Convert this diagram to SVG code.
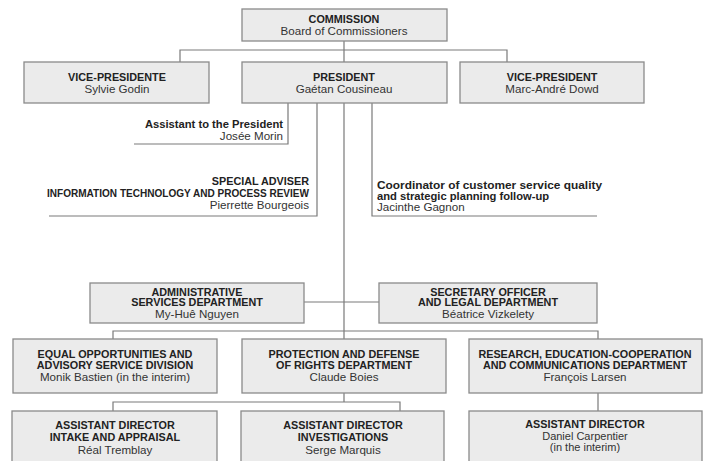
<svg xmlns="http://www.w3.org/2000/svg" width="703" height="461" viewBox="0 0 703 461">
<style>
.box{fill:#ebebeb;stroke:#8a8a8a;stroke-width:1.3}
.ln{fill:none;stroke:#7a7a7a;stroke-width:1.2}
text{font-family:"Liberation Sans",Arial,sans-serif;fill:#222}
.b{font-weight:bold;font-size:10.8px}
.bl{font-weight:bold;font-size:11.2px}
.n{font-size:11.6px;fill:#333}
.c{text-anchor:middle}
.r{text-anchor:end}
</style>
<rect width="703" height="461" fill="#fff"/>
<g id="connectors">
<path class="ln" d="M344 41V339M180 62V50H507V62"/>
<path class="ln" d="M288 103V144H134"/>
<path class="ln" d="M317 103V216H49"/>
<path class="ln" d="M372 103V216H597"/>
<path class="ln" d="M304 302H379"/>
<path class="ln" d="M113 339V331H598V339"/>
<path class="ln" d="M344 393V402M113 411V402H400V411"/>
<path class="ln" d="M598 393V411"/>
</g>
<g id="commission"><rect class="box" x="242" y="9" width="205" height="32"/>
<text class="b c" x="344" y="23">COMMISSION</text><text class="n c" x="344" y="35">Board of Commissioners</text></g>
<g id="vp-left"><rect class="box" x="24" y="62" width="185" height="41"/>
<text class="b c" x="117" y="81">VICE-PRESIDENTE</text><text class="n c" x="117" y="93">Sylvie Godin</text></g>
<g id="president"><rect class="box" x="242" y="62" width="205" height="41"/>
<text class="b c" x="344" y="81">PRESIDENT</text><text class="n c" x="344" y="93">Gaétan Cousineau</text></g>
<g id="vp-right"><rect class="box" x="460" y="62" width="184" height="41"/>
<text class="b c" x="552" y="81">VICE-PRESIDENT</text><text class="n c" x="552" y="93">Marc-André Dowd</text></g>
<g id="assistant"><text class="bl r" x="283" y="127.5">Assistant to the President</text><text class="n r" x="283" y="139.5">Josée Morin</text></g>
<g id="special-adviser"><text class="b r" x="309" y="185">SPECIAL ADVISER</text><text class="b" x="47" y="197" textLength="262" lengthAdjust="spacingAndGlyphs">INFORMATION TECHNOLOGY AND PROCESS REVIEW</text><text class="n r" x="309" y="209">Pierrette Bourgeois</text></g>
<g id="coordinator"><text class="bl" x="377" y="188.5" textLength="225" lengthAdjust="spacingAndGlyphs">Coordinator of customer service quality</text><text class="bl" x="377" y="199.5">and strategic planning follow-up</text><text class="n" x="377" y="211">Jacinthe Gagnon</text></g>
<g id="admin"><rect class="box" x="90" y="283" width="214" height="40"/>
<text class="b c" x="197" y="295.5">ADMINISTRATIVE</text><text class="b c" x="197" y="306">SERVICES DEPARTMENT</text><text class="n c" x="197" y="318">My-Huê Nguyen</text></g>
<g id="secretary"><rect class="box" x="379" y="283" width="218" height="40"/>
<text class="b c" x="488" y="295.5">SECRETARY OFFICER</text><text class="b c" x="488" y="306">AND LEGAL DEPARTMENT</text><text class="n c" x="488" y="318">Béatrice Vizkelety</text></g>
<g id="equal"><rect class="box" x="13" y="339" width="204" height="54"/>
<text class="b c" x="115" y="358">EQUAL OPPORTUNITIES AND</text><text class="b c" x="115" y="369">ADVISORY SERVICE DIVISION</text><text class="n c" x="115" y="381">Monik Bastien (in the interim)</text></g>
<g id="protection"><rect class="box" x="242" y="339" width="204" height="54"/>
<text class="b c" x="344" y="358">PROTECTION AND DEFENSE</text><text class="b c" x="344" y="369">OF RIGHTS DEPARTMENT</text><text class="n c" x="344" y="381">Claude Boies</text></g>
<g id="research"><rect class="box" x="469" y="339" width="233" height="54"/>
<text class="b c" x="585" y="358">RESEARCH, EDUCATION-COOPERATION</text><text class="b c" x="585" y="369">AND COMMUNICATIONS DEPARTMENT</text><text class="n c" x="585" y="381">François Larsen</text></g>
<g id="ad-intake"><rect class="box" x="12" y="411" width="205" height="55"/>
<text class="b c" x="115" y="429">ASSISTANT DIRECTOR</text><text class="b c" x="115" y="441">INTAKE AND APPRAISAL</text><text class="n c" x="115" y="454">Réal Tremblay</text></g>
<g id="ad-investigations"><rect class="box" x="241" y="411" width="203" height="55"/>
<text class="b c" x="343" y="429">ASSISTANT DIRECTOR</text><text class="b c" x="343" y="441">INVESTIGATIONS</text><text class="n c" x="343" y="454">Serge Marquis</text></g>
<g id="ad-research"><rect class="box" x="469" y="411" width="233" height="55"/>
<text class="b c" x="585" y="428">ASSISTANT DIRECTOR</text><text class="n c" x="585" y="439.5" style="font-size:11px">Daniel Carpentier</text><text class="n c" x="585" y="450.5" style="font-size:11px">(in the interim)</text></g>
</svg>
